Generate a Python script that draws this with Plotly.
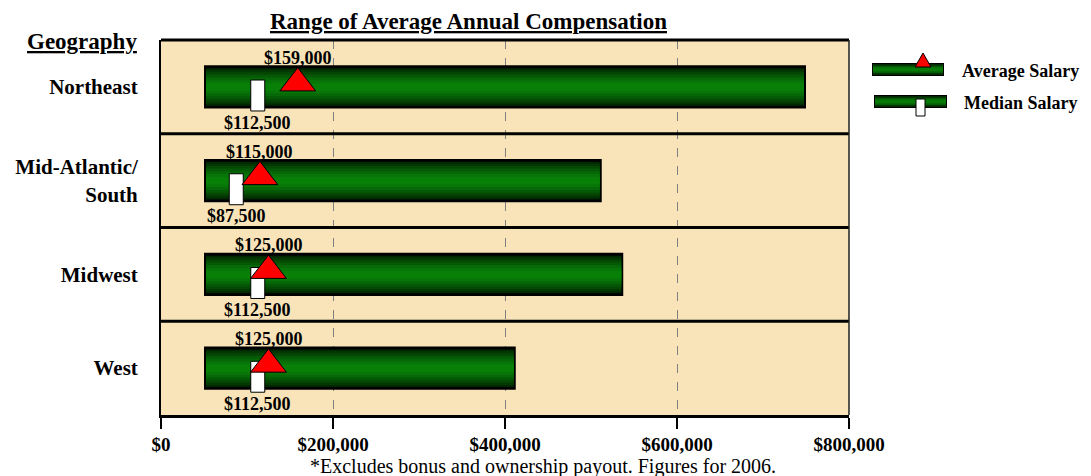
import plotly.graph_objects as go

# ---------------- data ----------------
regions = ["Northeast", "Mid-Atlantic/<br>South", "Midwest", "West"]
range_low = [50000, 50000, 50000, 50000]
range_high = [750000, 512500, 537500, 412500]
average_salary = [159000, 115000, 125000, 125000]
median_salary = [112500, 87500, 112500, 112500]
x_ticks = [0, 200000, 400000, 600000, 800000]
x_tick_labels = ["$0", "$200,000", "$400,000", "$600,000", "$800,000"]

# ---------------- layout geometry ----------------
OFF = 8  # page body margin
W, H = 1091 - OFF, 476 - OFF
L, R, T, B = 161, 849, 40, 415  # plot area in screenshot pixels
PW, PH = R - L, B - T
XMAX = 800000
UNIT = XMAX / PW  # data units per pixel
FONT = "Liberation Serif, Times New Roman, serif"

pos = list(range(len(regions) - 1, -1, -1))  # 3,2,1,0


def px(x):
    return (x - L) / PW


def py(y):
    return (B - y) / PH


fig = go.Figure()

# gradient bars: black outline layer then green layers
span = [h - l for h, l in zip(range_high, range_low)]
fig.add_trace(go.Bar(y=pos, x=span, base=range_low, orientation="h", width=0.46,
                     marker=dict(color="black", line=dict(width=0)), hoverinfo="skip"))
inset = 2 * UNIT
layers = [(0.40, "#022802"), (0.36, "#033803"), (0.31, "#044804"), (0.26, "#055805"),
          (0.20, "#066806"), (0.14, "#077507"), (0.08, "#088008")]
for w, c in layers:
    fig.add_trace(go.Bar(y=pos, x=[s - 2 * inset for s in span],
                         base=[l + inset for l in range_low], orientation="h", width=w,
                         marker=dict(color=c, line=dict(width=0)), hoverinfo="skip"))

# median markers (white rectangles)
half_w = 7 * UNIT
fig.add_trace(go.Bar(y=pos, x=[2 * half_w] * len(pos),
                     base=[m - half_w for m in median_salary], orientation="h",
                     width=0.33, offset=-0.257,
                     marker=dict(color="white", line=dict(color="black", width=1)),
                     hoverinfo="skip"))

# average markers (red triangles)
fig.add_trace(go.Scatter(x=average_salary, y=[p + 0.04 for p in pos], mode="markers",
                         marker=dict(symbol="triangle-up", size=31, color="#FF0000",
                                     line=dict(color="black", width=1)),
                         hoverinfo="skip"))

annotations = []
lab_font = dict(family=FONT, size=18, color="black", weight="bold")
for p, a, m in zip(pos, average_salary, median_salary):
    annotations.append(dict(x=a, y=p + 0.31, xref="x", yref="y", text=f"${a:,}",
                            showarrow=False, font=lab_font))
    annotations.append(dict(x=m, y=p - 0.38, xref="x", yref="y", text=f"${m:,}",
                            showarrow=False, font=lab_font))


def paper_text(x, y, text, size, bold=True, xanchor="center"):
    f = dict(family=FONT, size=size, color="black")
    if bold:
        f["weight"] = "bold"
    return dict(x=px(x), y=py(y), xref="paper", yref="paper", xanchor=xanchor,
                yanchor="middle", text=text, showarrow=False, font=f)


# title, geography header, footnote, legend texts
annotations.append(paper_text(468, 21, "<u>Range of Average Annual Compensation</u>", 23))
annotations.append(paper_text(139, 41, "<u>Geography</u>", 23, xanchor="right"))
annotations.append(paper_text(543, 466, "*Excludes bonus and ownership payout. Figures for 2006.",
                              20, bold=False))
annotations.append(paper_text(960, 71, "Average Salary", 18, xanchor="left"))
annotations.append(paper_text(962, 103, "Median Salary", 18, xanchor="left"))

shapes = []
# band separators
for i in range(len(regions) - 1):
    shapes.append(dict(type="line", xref="paper", yref="y", x0=0, x1=1, y0=i + 0.5, y1=i + 0.5,
                       line=dict(color="black", width=3)))
# top and right borders
shapes.append(dict(type="line", xref="paper", yref="paper", x0=0, x1=1, y0=1, y1=1,
                   line=dict(color="black", width=3)))
shapes.append(dict(type="line", xref="paper", yref="paper", x0=1, x1=1, y0=0, y1=1,
                   line=dict(color="#222222", width=1.5)))


def legend_bar(x0, x1, y0, y1):
    out = [dict(type="rect", xref="paper", yref="paper", x0=px(x0), x1=px(x1), y0=py(y1), y1=py(y0),
                fillcolor="black", line=dict(width=0))]
    h = y1 - y0
    for f, c in [(0.80, "#033803"), (0.55, "#055a05"), (0.30, "#077a07")]:
        m = (y0 + y1) / 2
        out.append(dict(type="rect", xref="paper", yref="paper", x0=px(x0 + 1), x1=px(x1 - 1),
                        y0=py(m + h * f / 2), y1=py(m - h * f / 2), fillcolor=c, line=dict(width=0)))
    return out


shapes += legend_bar(872, 944, 63, 76)
shapes += legend_bar(874, 947, 95, 108)
shapes.append(dict(type="path", xref="paper", yref="paper",
                   path=f"M {px(915)},{py(67)} L {px(931)},{py(67)} L {px(923)},{py(53)} Z",
                   fillcolor="#FF0000", line=dict(color="black", width=1)))
shapes.append(dict(type="rect", xref="paper", yref="paper", x0=px(916), x1=px(925),
                   y0=py(116), y1=py(99), fillcolor="white", line=dict(color="black", width=1)))

fig.update_layout(
    width=W, height=H,
    margin=dict(l=L - OFF, r=1091 - R, t=T - OFF, b=476 - B, pad=0, autoexpand=False),
    barmode="overlay",
    showlegend=False,
    paper_bgcolor="white",
    plot_bgcolor="#F8E4B8",
    annotations=annotations,
    shapes=shapes,
    xaxis=dict(range=[0, XMAX], tickvals=x_ticks, ticktext=x_tick_labels, automargin=False,
               showgrid=True, gridcolor="#808080", griddash="dash", gridwidth=1,
               showline=True, linecolor="black", linewidth=3,
               ticks="outside", ticklen=11, tickwidth=2, tickcolor="black",
               ticklabelstandoff=-1, zeroline=False, fixedrange=True,
               tickfont=dict(family=FONT, size=19, color="black", weight="bold")),
    yaxis=dict(range=[-0.5, len(regions) - 0.5], tickvals=pos, ticktext=regions,
               automargin=False,
               showgrid=False, zeroline=False, showline=True, linecolor="black", linewidth=2,
               ticks="", ticklabelstandoff=17, fixedrange=True,
               tickfont=dict(family=FONT, size=21, color="black", weight="bold")),
)

fig.write_html("out.html")
